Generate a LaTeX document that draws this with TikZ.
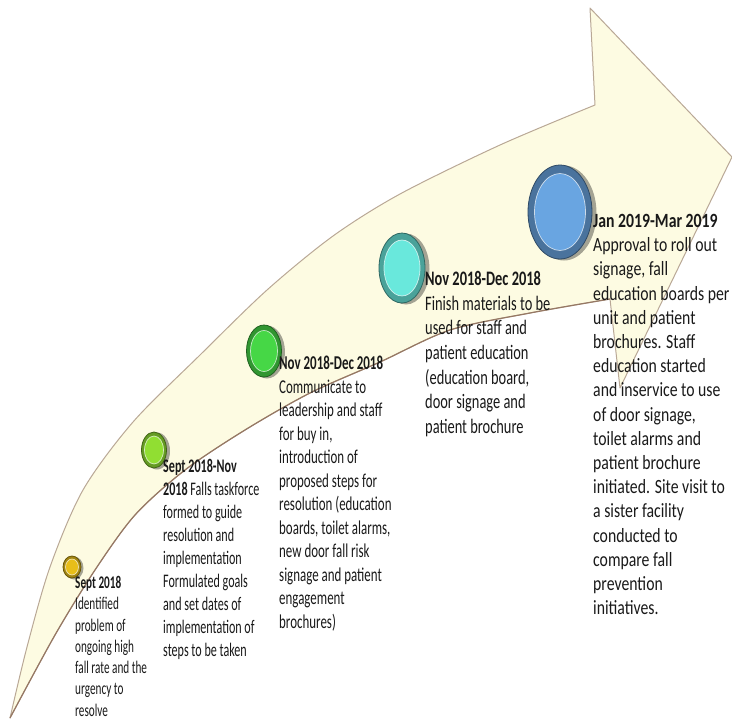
\documentclass[tikz,border=0pt]{standalone}
\usepackage{fontspec}
\setmainfont{Carlito}
\newfontfamily\colfontA[FakeStretch=0.63]{Carlito}
\newfontfamily\colfontB[FakeStretch=0.66]{Carlito}
\newfontfamily\colfontC[FakeStretch=0.70]{Carlito}
\newfontfamily\colfontD[FakeStretch=0.78]{Carlito}
\usepackage{tikz}
\usetikzlibrary{shapes.geometric}

\definecolor{arrowfill}{RGB}{253,251,226}
\definecolor{arrowedge}{RGB}{185,168,150}
\definecolor{arrowshade}{RGB}{150,120,100}
\definecolor{btngold}{RGB}{232,190,25}
\definecolor{btnlime}{RGB}{145,222,50}
\definecolor{btngreen}{RGB}{70,215,70}
\definecolor{btnteal}{RGB}{105,232,220}
\definecolor{btnblue}{RGB}{105,165,225}
\definecolor{txt}{RGB}{25,25,25}

\begin{document}
\begin{tikzpicture}[x=1pt,y=-1pt,
        button/.style={ellipse,inner sep=0pt,draw=#1!45!black,line width=0.8pt,fill=#1!70!black},
        milestone/.style={anchor=north west,inner sep=0pt,align=left,text=txt}]
    \useasboundingbox (0,0) rectangle (732,721);

    % curved arrow
    \filldraw[fill=arrowfill,draw=arrowedge,line width=1pt,line join=round]
        plot[smooth] coordinates {(10,718) (27,647) (50,567) (83,490) (133,422) (200,355) (267,290) (333,236) (400,194) (500,145) (595,105)}
        -- (590,8) -- (732,157) -- (620,388) -- (610,299)
        -- plot[smooth] coordinates {(610,299) (530,313) (450,330) (380,362) (310,393) (245,430) (185,470) (135,515) (95,570) (55,635) (10,718)}
        -- cycle;
    \draw[arrowshade,line width=1.2pt] plot[smooth] coordinates {(610,299) (530,313) (450,330) (380,362) (310,393) (245,430) (185,470) (135,515) (95,570) (55,635) (10,718)};

    % buttons
    \fill[black,opacity=0.35] (74,568) ellipse (9.5 and 11.5) (157,451) ellipse (13 and 18.5)
        (267,352) ellipse (18 and 26.5) (406,269) ellipse (23.5 and 35.5) (564,213) ellipse (32.5 and 47.5);
    \node[button=btngold,  minimum width=18pt, minimum height=22pt] (b1) at (72,567) {};
    \node[button=btnlime,  minimum width=25pt, minimum height=36pt] (b2) at (154,450) {};
    \node[button=btngreen, minimum width=35pt, minimum height=52pt] (b3) at (264,351) {};
    \node[button=btnteal,  minimum width=46pt, minimum height=70pt] (b4) at (402,268) {};
    \node[button=btnblue,  minimum width=64pt, minimum height=94pt] (b5) at (560,212) {};
    \fill[btngold]  (b1.center) ellipse (6.5 and 8);
    \fill[btnlime]  (b2.center) ellipse (9.5 and 14);
    \fill[btngreen] (b3.center) ellipse (13.5 and 20.5);
    \fill[btnteal]  (b4.center) ellipse (18 and 28);
    \fill[btnblue]  (b5.center) ellipse (25.5 and 38.5);
    \draw[white,opacity=0.7,line width=0.7pt] (b1.center) ellipse (6.5 and 8) (b2.center) ellipse (9.5 and 14)
        (b3.center) ellipse (13.5 and 20.5) (b4.center) ellipse (18 and 28) (b5.center) ellipse (25.5 and 38.5);

    % milestones
    \node[milestone,font=\colfontA\fontsize{17.8}{21.3}\selectfont] (m1) at (75,576)
        {\textbf{Sept 2018}\\Identified\\problem of\\ongoing high\\fall rate and the\\urgency to\\resolve};
    \node[milestone,font=\colfontA\fontsize{19.2}{23}\selectfont] (m2) at (163,459)
        {\textbf{Sept 2018-Nov}\\\textbf{2018} Falls taskforce\\formed to guide\\resolution and\\implementation\\Formulated goals\\and set dates of\\implementation of\\steps to be taken};
    \node[milestone,font=\colfontB\fontsize{19.6}{23.5}\selectfont] (m3) at (279,356)
        {\textbf{Nov 2018-Dec 2018}\\Communicate to\\leadership and staff\\for buy in,\\introduction of\\proposed steps for\\resolution (education\\boards, toilet alarms,\\new door fall risk\\signage and patient\\engagement\\brochures)};
    \node[milestone,font=\colfontC\fontsize{20.6}{24.7}\selectfont] (m4) at (425,271)
        {\textbf{Nov 2018-Dec 2018}\\Finish materials to be\\used for staff and\\patient education\\(education board,\\door signage and\\patient brochure};
    \node[milestone,font=\colfontD\fontsize{20.2}{24.2}\selectfont] (m5) at (593,214)
        {\textbf{Jan 2019-Mar 2019}\\Approval to roll out\\signage, fall\\education boards per\\unit and patient\\brochures. Staff\\education started\\and inservice to use\\of door signage,\\toilet alarms and\\patient brochure\\initiated. Site visit to\\a sister facility\\conducted to\\compare fall\\prevention\\initiatives.};
\end{tikzpicture}
\end{document}
